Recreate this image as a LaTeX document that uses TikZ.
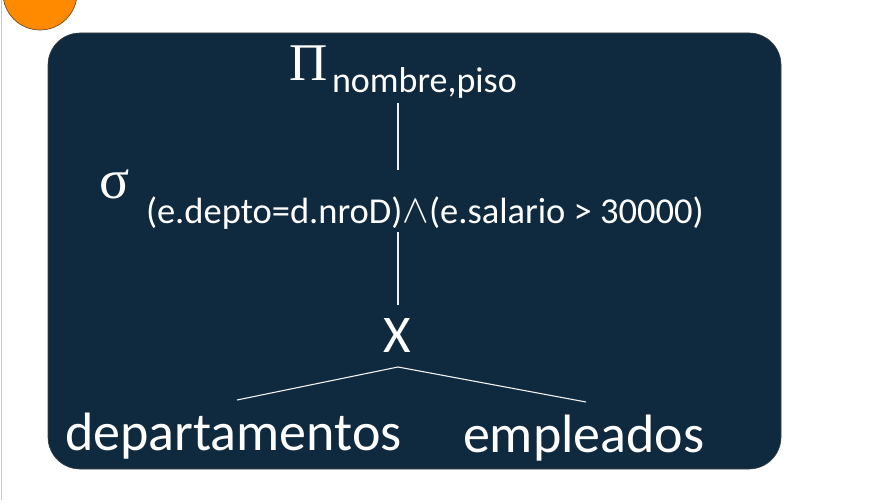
\documentclass[tikz,border=0pt]{standalone}
\usepackage{fontspec}
\setmainfont{Carlito}
\newfontfamily\serifgr{Liberation Serif}
\definecolor{boxbg}{HTML}{0F2A3F}
\definecolor{orng}{HTML}{FF8A00}
\begin{document}
\begin{tikzpicture}[x=1pt,y=-1pt,
  txt/.style={text=white, inner sep=0pt, outer sep=0pt, anchor=base west},
  edge/.style={draw=white!90!gray, line width=1.1pt}]
\useasboundingbox (0,0) rectangle (890,503);
\fill[white] (0,0) rectangle (890,503);
\draw[gray!45, line width=1pt] (1,0) -- (1,500);
\draw[fill=orng, draw=brown!60!black, line width=0.7pt] (40,-7) circle (37);
\draw[fill=boxbg, draw=black!75, line width=0.6pt, rounded corners=32pt] (48,33) rectangle (781,469);

\node[txt, font=\fontsize{53}{60}\serifgr] (pi) at (289,80) {Π};
\node[txt, font=\fontsize{36}{40}\selectfont] (pisub) at (332,92) {nombre,piso};
\node[txt, font=\fontsize{56}{60}\serifgr] (sig) at (99,198) {σ};
\node[txt, font=\fontsize{36.5}{40}\selectfont] (sigsub) at (146,223) {(e.depto=d.nroD)\raisebox{1pt}{\scalebox{1.6}{$\wedge$}}(e.salario > 30000)};
\node[txt, font=\fontsize{53}{60}\selectfont] (cross) at (383,352) {X};
\node[txt, font=\fontsize{54}{60}\selectfont] (dep) at (65,450) {departamentos};
\node[txt, font=\fontsize{54}{60}\selectfont] (emp) at (463,452) {empleados};

\coordinate (p1) at (398,103);
\coordinate (s1) at (398,170);
\coordinate (s2) at (398,232);
\coordinate (x1) at (398,305);
\coordinate (x2) at (398,367);
\coordinate (d1) at (237,400);
\coordinate (e1) at (586,402);
\draw[edge] (p1) -- (s1);
\draw[edge] (s2) -- (x1);
\draw[edge] (x2) -- (d1);
\draw[edge] (x2) -- (e1);
\end{tikzpicture}
\end{document}
